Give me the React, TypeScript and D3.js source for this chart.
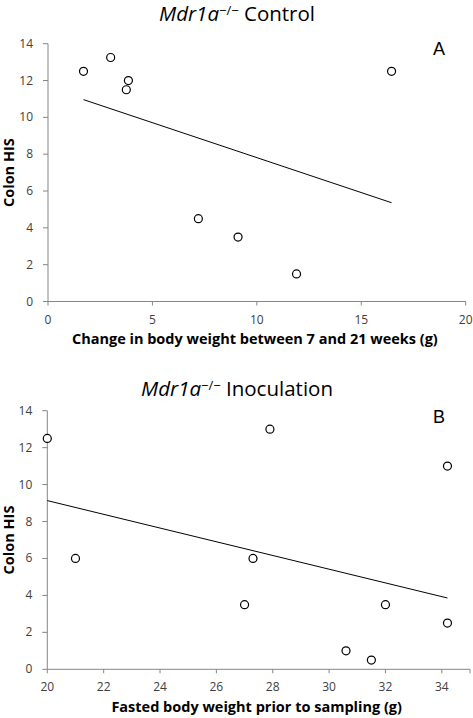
import React from "react";
import * as d3 from "d3";

// Panel A: Mdr1a-/- Control
const controlWeightChange = [1.7, 3.0, 3.85, 3.75, 16.45, 7.2, 9.1, 11.9];
const controlHIS = [12.5, 13.25, 12, 11.5, 12.5, 4.5, 3.5, 1.5];
// Panel B: Mdr1a-/- Inoculation
const inocWeight = [20.0, 21.0, 27.9, 34.2, 27.3, 27.0, 30.6, 31.5, 32.0, 34.2];
const inocHIS = [12.5, 6, 13, 11, 6, 3.5, 1, 0.5, 3.5, 2.5];

const yTicks = [0, 2, 4, 6, 8, 10, 12, 14];
const xTicksA = [0, 5, 10, 15, 20];
const xTicksB = [20, 22, 24, 26, 28, 30, 32, 34];

const FONT = "'Open Sans', 'Noto Sans', sans-serif";
const AXIS_COLOR = "#868686";
const LABEL_COLOR = "#404040";

function regression(xs: number[], ys: number[]) {
  const mx = d3.mean(xs)!;
  const my = d3.mean(ys)!;
  let sxy = 0, sxx = 0;
  xs.forEach((x, i) => {
    sxy += (x - mx) * (ys[i] - my);
    sxx += (x - mx) * (x - mx);
  });
  const slope = sxy / sxx;
  return (x: number) => my + slope * (x - mx);
}

type PanelProps = {
  xs: number[];
  ys: number[];
  xDomain: [number, number];
  xRange: [number, number];
  yRange: [number, number];
  xTicks: number[];
  titleRest: string;
  titleY: number;
  letter: string;
  letterX: number;
  letterY: number;
  xLabel: string;
  xLabelY: number;
};

function Panel(p: PanelProps) {
  const x = d3.scaleLinear().domain(p.xDomain).range(p.xRange);
  const y = d3.scaleLinear().domain([0, 14]).range(p.yRange);
  const fit = regression(p.xs, p.ys);
  const [xmin, xmax] = d3.extent(p.xs) as [number, number];
  const line = d3.line<number>().x((d) => x(d)).y((d) => y(fit(d)));
  const x0 = p.xRange[0];
  const y0 = p.yRange[0];
  const midX = (p.xRange[0] + p.xRange[1]) / 2;
  const midY = (p.yRange[0] + p.yRange[1]) / 2;
  return (
    <g>
      <text x={237} y={p.titleY} textAnchor="middle" fontFamily={FONT} fontSize={20.5} fill="#000">
        <tspan fontStyle="italic">Mdr1a</tspan>
        <tspan fontSize={13} dy={-6}>−/−</tspan>
        <tspan dy={6}>{" " + p.titleRest}</tspan>
      </text>
      <text x={p.letterX} y={p.letterY} fontFamily="'Liberation Sans', Arial, sans-serif" fontSize={18} fill="#000">
        {p.letter}
      </text>
      {/* axes */}
      <line x1={x0} x2={x0} y1={p.yRange[0]} y2={p.yRange[1]} stroke={AXIS_COLOR} strokeWidth={1} />
      <line x1={p.xRange[0]} x2={p.xRange[1]} y1={y0} y2={y0} stroke={AXIS_COLOR} strokeWidth={1} />
      {yTicks.map((t) => (
        <g key={"y" + t}>
          <line x1={x0 - 5} x2={x0} y1={y(t)} y2={y(t)} stroke={AXIS_COLOR} />
          <text x={x0 - 15} y={y(t) + 4} textAnchor="end" fontFamily={FONT} fontSize={12} fill={LABEL_COLOR}>
            {t}
          </text>
        </g>
      ))}
      {p.xTicks.map((t) => (
        <g key={"x" + t}>
          <line x1={x(t)} x2={x(t)} y1={y0} y2={y0 + 4} stroke={AXIS_COLOR} />
          <text x={x(t)} y={y0 + 22} textAnchor="middle" fontFamily={FONT} fontSize={12} fill={LABEL_COLOR}>
            {t}
          </text>
        </g>
      ))}
      {p.xDomain[1] > p.xTicks[p.xTicks.length - 1] && (
        <line x1={p.xRange[1]} x2={p.xRange[1]} y1={y0} y2={y0 + 4} stroke={AXIS_COLOR} />
      )}
      <text
        transform={`translate(14,${midY}) rotate(-90)`}
        textAnchor="middle"
        fontFamily={FONT}
        fontWeight="bold"
        fontSize={14.5}
        fill="#000"
      >
        Colon HIS
      </text>
      <text x={midX - 2} y={p.xLabelY} textAnchor="middle" fontFamily={FONT} fontWeight="bold" fontSize={14.5} fill="#000">
        {p.xLabel}
      </text>
      <path d={line([xmin, xmax]) || ""} stroke="#000" strokeWidth={1} fill="none" />
      {p.xs.map((v, i) => (
        <circle key={i} cx={x(v)} cy={y(p.ys[i])} r={4} fill="#fff" stroke="#000" strokeWidth={1.2} />
      ))}
    </g>
  );
}

export default function App() {
  return (
    <svg
      width={473}
      height={718}
      style={{ position: "absolute", left: 0, top: 0, background: "#fff" }}
    >
      <rect width={473} height={718} fill="#fff" />
      <Panel
        xs={controlWeightChange}
        ys={controlHIS}
        xDomain={[0, 20]}
        xRange={[48, 465.7]}
        yRange={[301.5, 43.7]}
        xTicks={xTicksA}
        titleRest="Control"
        titleY={21}
        letter="A"
        letterX={433}
        letterY={55}
        xLabel="Change in body weight between 7 and 21 weeks (g)"
        xLabelY={344}
      />
      <Panel
        xs={inocWeight}
        ys={inocHIS}
        xDomain={[20, 35]}
        xRange={[47.3, 470]}
        yRange={[669.3, 410.7]}
        xTicks={xTicksB}
        titleRest="Inoculation"
        titleY={396}
        letter="B"
        letterX={433}
        letterY={423}
        xLabel="Fasted body weight prior to sampling (g)"
        xLabelY={712}
      />
    </svg>
  );
}
